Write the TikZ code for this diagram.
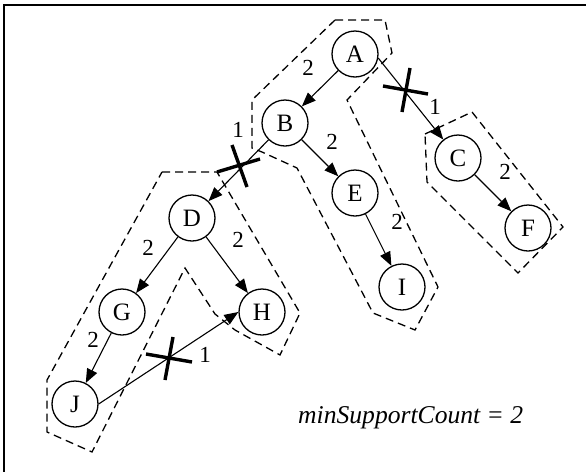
\documentclass[tikz,border=0pt]{standalone}
\usepackage{fontspec}
\setmainfont{Liberation Serif}
\usetikzlibrary{arrows.meta}
\begin{document}
\begin{tikzpicture}[x=1pt,y=-1pt,
  vert/.style={circle,draw,line width=1.3pt,minimum size=46pt,inner sep=0pt,font=\fontsize{25}{25}\selectfont},
  edge/.style={line width=1.1pt,-{Triangle[length=14pt,width=11pt]}},
  lab/.style={inner sep=0pt,font=\fontsize{23}{23}\selectfont},
  cut/.style={line width=3.4pt},
  grp/.style={dashed,line width=1.3pt,dash pattern=on 8pt off 5pt}]
\useasboundingbox (0,0) rectangle (586,472);
% frame
\coordinate (f1) at (4,5);
\coordinate (f2) at (586,5);
\coordinate (f3) at (4,472);
\draw[line width=2pt] (f2) -- (f1) -- (f3);
% groups
\draw[grp] (335,20) -- (385,20) -- (392,53) -- (347,100) -- (438,287) -- (415,330) -- (373,313) -- (297,168) -- (262,152) -- (252,148) -- (252,100) -- cycle;
\draw[grp] (425,134) -- (472,112) -- (563,227) -- (518,273) -- (427,182) -- cycle;
\draw[grp] (162,172) -- (217,172) -- (300,313) -- (280,355) -- (235,330) -- (215,314) -- (185,268) -- (92,452) -- (47,432) -- (47,380) -- cycle;
% nodes
\node[vert] (A) at (355,54) {A};
\node[vert] (B) at (285,123) {B};
\node[vert] (C) at (458,158) {C};
\node[vert] (D) at (192,218) {D};
\node[vert] (E) at (355,193) {E};
\node[vert] (F) at (528,228) {F};
\node[vert] (G) at (122,312) {G};
\node[vert] (H) at (262,312) {H};
\node[vert] (I) at (402,287) {I};
\node[vert] (J) at (75,404) {J};
% edges
\draw[edge] (A) -- (B);
\draw[edge] (A.-10) -- (C);
\draw[edge] (B) -- (E);
\draw[edge] (B) -- (D);
\draw[edge] (C) -- (F);
\draw[edge] (E) -- (I);
\draw[edge] (D) -- (G);
\draw[edge] (D) -- (H);
\draw[edge] (G) -- (J);
\draw[edge] (J.east) -- (H.west);
% labels
\node[lab] (lAB) at (308,68) {2};
\node[lab] (lAC) at (435,107) {1};
\node[lab] (lBE) at (332,142) {2};
\node[lab] (lBD) at (238,130) {1};
\node[lab] (lCF) at (505,172) {2};
\node[lab] (lEI) at (397,222) {2};
\node[lab] (lDG) at (148,248) {2};
\node[lab] (lDH) at (238,240) {2};
\node[lab] (lGJ) at (93,340) {2};
\node[lab] (lJH) at (205,355) {1};
% cuts
\draw[cut] (383,86) -- (428,94);
\draw[cut] (410,68) -- (402,112);
\draw[cut] (217,172) -- (260,159);
\draw[cut] (232,145) -- (247,187);
\draw[cut] (146,354) -- (192,362);
\draw[cut] (173,337) -- (165,380);
% text
\node[inner sep=0pt,anchor=base west,font=\fontsize{25.6}{25.6}\selectfont\itshape] (ms) at (298,423) {minSupportCount = 2};
\end{tikzpicture}
\end{document}
